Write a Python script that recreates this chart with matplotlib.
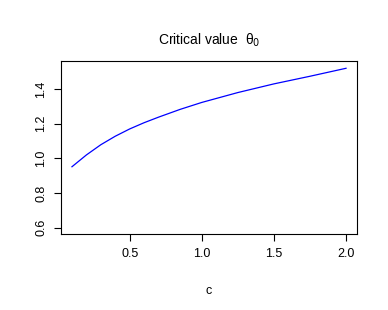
import numpy as np
import matplotlib
matplotlib.use("Agg")
import matplotlib.pyplot as plt

plt.rcParams['font.family'] = ['Liberation Sans', 'DejaVu Sans']

# values
c_vals = [0.1, 0.2, 0.3, 0.4, 0.5, 0.6, 0.7, 0.85, 1.0, 1.25, 1.5, 1.75, 2.0]
theta0 = [0.952, 1.02, 1.079, 1.128, 1.17, 1.206, 1.238, 1.283, 1.323, 1.38, 1.43, 1.474, 1.52]
x_ticks = [0.5, 1.0, 1.5, 2.0]
y_ticks = [0.6, 0.8, 1.0, 1.2, 1.4]

fig = plt.figure(figsize=(3.88, 3.10), dpi=100)
ax = fig.add_axes([61/388, 1 - 234/310, 296/388, 173/310])

ax.plot(c_vals, theta0, color='blue', lw=0.9)

ax.set_xlim(0.024, 2.076)
ax.set_ylim(0.564, 1.562)
ax.set_xticks(x_ticks)
ax.set_xticklabels(['0.5', '1.0', '1.5', '2.0'])
ax.set_yticks(y_ticks)
ax.set_yticklabels(['0.6', '0.8', '1.0', '1.2', '1.4'], rotation=90, va='center')
ax.tick_params(direction='out', length=5, width=0.8, labelsize=9, pad=5)
for s in ax.spines.values():
    s.set_linewidth(0.8)

ax.set_xlabel('c', fontsize=9, labelpad=18)
ax.set_title('Critical value  θ$_0$', fontsize=10, pad=12)

plt.savefig('out.png', dpi=100)
